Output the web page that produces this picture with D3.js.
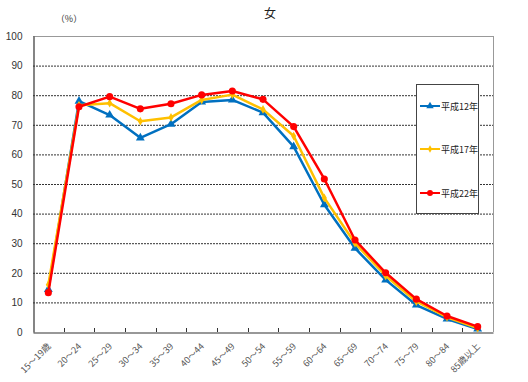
<!DOCTYPE html>
<html><head><meta charset="utf-8">
<script src="https://cdn.jsdelivr.net/npm/d3@7"></script>
<style>body{margin:0;background:#fff}svg{display:block}text{font-family:"Noto Sans CJK JP","DejaVu Sans",sans-serif}</style>
</head><body><svg id="c" width="528" height="382"></svg>
<script>
const categories = ["15～19歳","20～24","25～29","30～34","35～39","40～44","45～49","50～54","55～59","60～64","65～69","70～74","75～79","80～84","85歳以上"];
const seriesNames = ["平成12年","平成17年","平成22年"];
const h12 = [14.4,78.0,73.3,65.6,70.2,77.7,78.4,74.1,62.6,43.0,28.3,17.6,9.1,4.4,1.0];
const h17 = [16.0,76.6,77.3,71.2,72.5,78.4,80.2,75.2,66.2,45.3,30.0,19.0,10.3,5.0,1.3];
const h22 = [13.3,76.1,79.5,75.4,77.1,80.1,81.4,78.6,69.4,51.7,31.1,20.0,11.1,5.4,1.8];
const yTicks = [0,10,20,30,40,50,60,70,80,90,100];
const colors = ["#0070C0","#FFC000","#FF0000"];
const shapes = [d3.symbolTriangle, d3.symbolDiamond, d3.symbolCircle];
const sizes = [34, 22, 40];

const svg = d3.select("#c");
const L=33, R=493, T=36, B=332;
const x = d3.scaleBand().domain(categories).range([L,R]);
const y = d3.scaleLinear().domain([0,100]).range([B,T]);

// gridlines
svg.append("g").selectAll("line").data(yTicks.filter(d=>d>0&&d<100)).join("line")
  .attr("x1",L).attr("x2",R).attr("y1",d=>y(d)+0.5).attr("y2",d=>y(d)+0.5)
  .attr("stroke","#333").attr("stroke-width",1).attr("stroke-dasharray","2,1");
// frame top/right
svg.append("line").attr("x1",L).attr("x2",R).attr("y1",y(100)+0.5).attr("y2",y(100)+0.5).attr("stroke","#999");
svg.append("line").attr("x1",R+0.5).attr("x2",R+0.5).attr("y1",T).attr("y2",B).attr("stroke","#999");

// y axis
const ya = svg.append("g").attr("transform",`translate(${L+0.5},0)`)
  .call(d3.axisLeft(y).tickValues(yTicks).tickSize(0).tickPadding(11));
ya.select(".domain").attr("stroke","#333").attr("stroke-width",1.2);
ya.selectAll("text").attr("font-size",10).attr("fill","#333").style("font-family","'Liberation Sans',Arial,sans-serif");

// x axis
const xa = svg.append("g").attr("transform",`translate(0,${B+0.5})`)
  .call(d3.axisBottom(x).tickSize(0).tickFormat(""));
xa.select(".domain").attr("stroke","#333").attr("stroke-width",1.2);
const bounds = d3.range(1,categories.length).map(i=>L+i*x.bandwidth());
svg.append("g").selectAll("line").data(bounds).join("line")
  .attr("x1",d=>Math.round(d)+0.5).attr("x2",d=>Math.round(d)+0.5).attr("y1",B-4).attr("y2",B)
  .attr("stroke","#333");
svg.append("g").selectAll("text").data(categories).join("text")
  .attr("transform",d=>`translate(${x(d)+x.bandwidth()/2+3},${B+15}) rotate(-45)`)
  .attr("text-anchor","end").attr("font-size",9).attr("fill","#555").text(d=>d);

// series
const data = [h12,h17,h22];
const line = d3.line().x((d,i)=>x(categories[i])+x.bandwidth()/2).y(d=>y(d));
data.forEach((s,k)=>{
  const g = svg.append("g");
  g.append("path").datum(s).attr("d",line).attr("fill","none").attr("stroke",colors[k]).attr("stroke-width",2.5).attr("stroke-linejoin","round");
  g.selectAll("path.m").data(s).join("path").attr("class","m")
    .attr("transform",(d,i)=>`translate(${x(categories[i])+x.bandwidth()/2},${y(d)})`)
    .attr("d",d3.symbol().type(shapes[k]).size(sizes[k])).attr("fill",colors[k]);
});

// legend
const lg = svg.append("g");
lg.append("rect").attr("x",416.5).attr("y",84.5).attr("width",62).attr("height",129).attr("fill","#fff").attr("stroke","#444");
const ly = [106,149,193];
seriesNames.forEach((n,k)=>{
  lg.append("line").attr("x1",420).attr("x2",440).attr("y1",ly[k]).attr("y2",ly[k]).attr("stroke",colors[k]).attr("stroke-width",2);
  lg.append("path").attr("transform",`translate(430,${ly[k]})`).attr("d",d3.symbol().type(shapes[k]).size(sizes[k]*0.7)).attr("fill",colors[k]);
  lg.append("text").attr("x",441).attr("y",ly[k]+3.5).attr("font-size",9).attr("fill","#222").text(n);
});

// titles
svg.append("text").attr("x",270).attr("y",18).attr("text-anchor","middle").attr("font-size",12).attr("fill","#222").text("女");
svg.append("text").attr("x",69).attr("y",22).attr("text-anchor","middle").attr("font-size",9).attr("fill","#333").text("（%）");
</script></body></html>
